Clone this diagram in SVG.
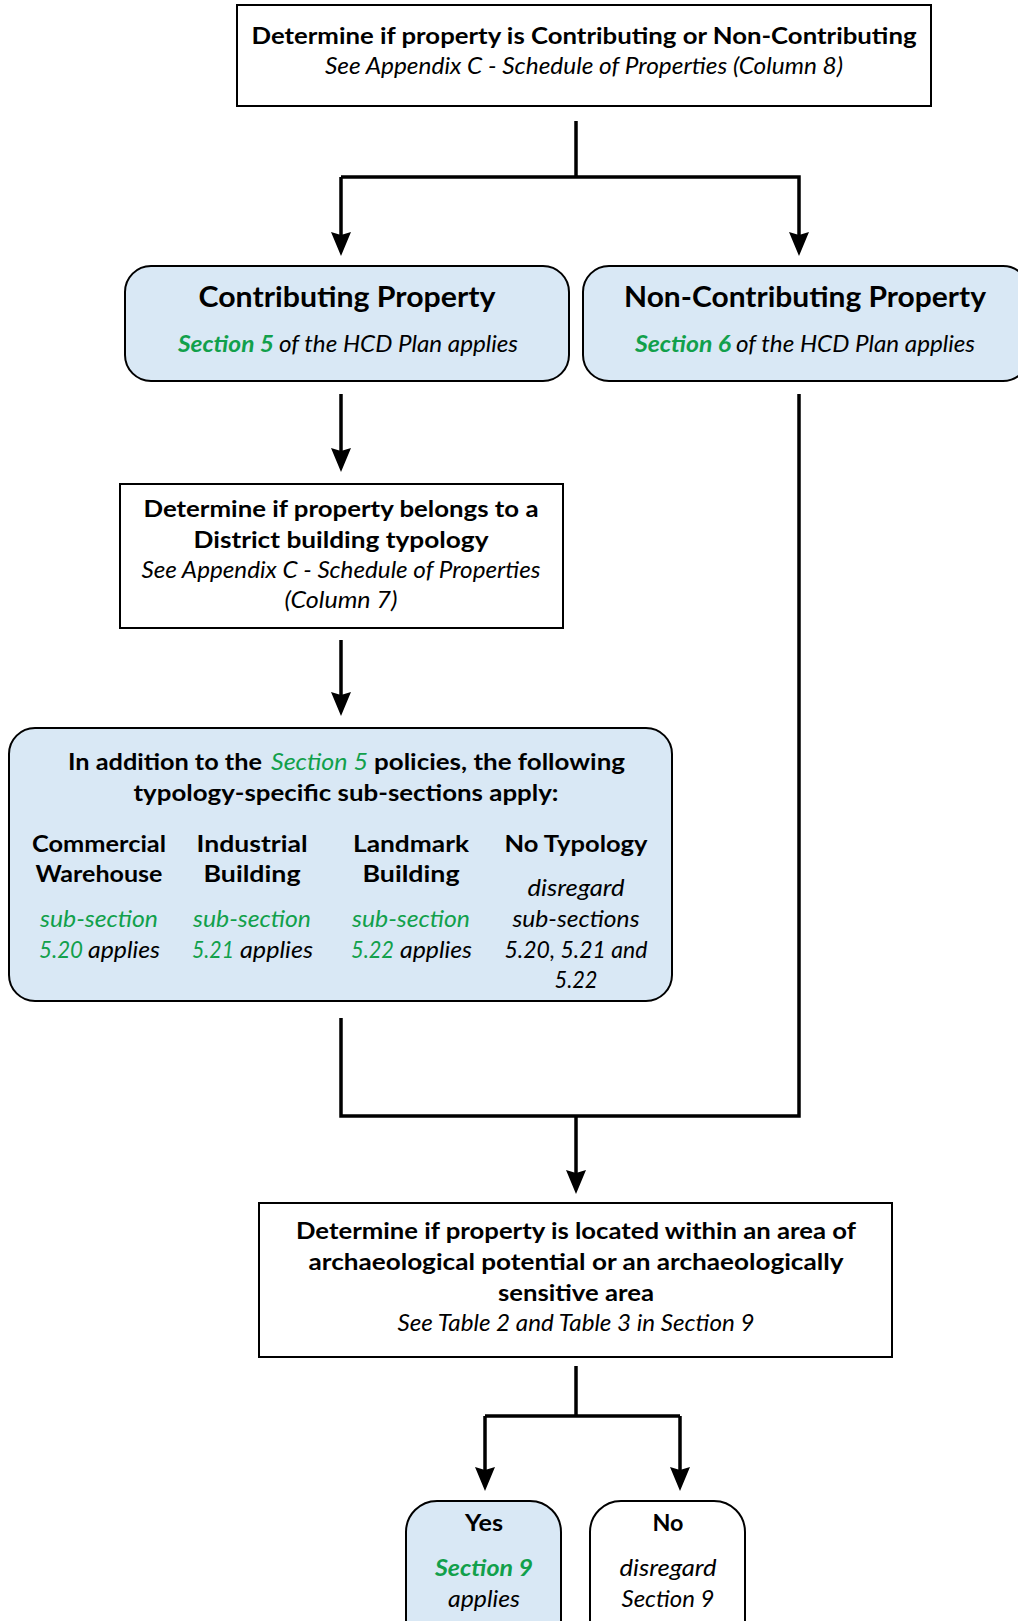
<svg xmlns="http://www.w3.org/2000/svg" width="1018" height="1621" viewBox="0 0 1018 1621">
<style>
text{font-family:Lato,"Open Sans","Liberation Sans",sans-serif;font-size:23px;fill:#000}
.b{font-weight:bold}
.i{font-style:italic}
.g{fill:#11a04b}
.t{font-size:29px;font-weight:bold}
.m{text-anchor:middle}
.box{fill:#fff;stroke:#000;stroke-width:2}
.blue{fill:#d9e8f5;stroke:#000;stroke-width:2}
.wht{fill:#fff;stroke:#000;stroke-width:2}
.ln{fill:none;stroke:#000;stroke-width:3.5}
</style>
<defs>
<marker id="ah" markerUnits="userSpaceOnUse" markerWidth="26" markerHeight="22" viewBox="0 -11 26 22" refX="12" refY="0" orient="auto">
<path d="M0,-10 L24,0 L0,10 L3,0 Z" fill="#000"/>
</marker>
</defs>
<rect width="1018" height="1621" fill="#fff"/>

<g id="connectors">
<polyline class="ln" points="576,121 576,177"/>
<polyline class="ln" points="341,177 799,177 799,244" marker-end="url(#ah)"/>
<path class="ln" d="M341,177 L341,244" marker-end="url(#ah)"/>
<path class="ln" d="M341,394 L341,460" marker-end="url(#ah)"/>
<path class="ln" d="M341,640 L341,704" marker-end="url(#ah)"/>
<polyline class="ln" points="341,1018 341,1116 799,1116 799,394"/>
<path class="ln" d="M576,1116 L576,1182" marker-end="url(#ah)"/>
<polyline class="ln" points="576,1366 576,1416"/>
<path class="ln" d="M485,1416 L680,1416"/>
<path class="ln" d="M485,1416 L485,1479" marker-end="url(#ah)"/>
<path class="ln" d="M680,1416 L680,1479" marker-end="url(#ah)"/>
</g>

<g id="n-determine">
<rect class="box" x="237" y="5" width="694" height="101"/>
<text class="b m" x="584" y="44" textLength="665" lengthAdjust="spacingAndGlyphs">Determine if property is Contributing or Non-Contributing</text>
<text class="i m" x="584" y="74" textLength="518" lengthAdjust="spacingAndGlyphs">See Appendix C - Schedule of Properties (Column 8)</text>
</g>

<g id="n-contributing">
<rect class="blue" x="125" y="266" width="444" height="115" rx="26"/>
<text class="t m" x="347" y="307" textLength="297" lengthAdjust="spacingAndGlyphs">Contributing Property</text>
<text class="b i g" x="178" y="352" textLength="96" lengthAdjust="spacingAndGlyphs">Section 5</text>
<text class="i" x="279" y="352" textLength="239" lengthAdjust="spacingAndGlyphs">of the HCD Plan applies</text>
</g>

<g id="n-noncontributing">
<rect class="blue" x="583" y="266" width="446" height="115" rx="26"/>
<text class="t m" x="805" y="307" textLength="362" lengthAdjust="spacingAndGlyphs">Non-Contributing Property</text>
<text class="b i g" x="635" y="352" textLength="96" lengthAdjust="spacingAndGlyphs">Section 6</text>
<text class="i" x="736" y="352" textLength="239" lengthAdjust="spacingAndGlyphs">of the HCD Plan applies</text>
</g>

<g id="n-typology">
<rect class="box" x="120" y="484" width="443" height="144"/>
<text class="b m" x="341" y="517" textLength="395" lengthAdjust="spacingAndGlyphs">Determine if property belongs to a</text>
<text class="b m" x="341" y="548" textLength="295" lengthAdjust="spacingAndGlyphs">District building typology</text>
<text class="i m" x="341" y="578" textLength="399" lengthAdjust="spacingAndGlyphs">See Appendix C - Schedule of Properties</text>
<text class="i m" x="341" y="608" textLength="113" lengthAdjust="spacingAndGlyphs">(Column 7)</text>
</g>

<g id="n-subsections">
<rect class="blue" x="9" y="728" width="663" height="273" rx="26"/>
<text class="b" x="68" y="770" textLength="194" lengthAdjust="spacingAndGlyphs">In addition to the</text>
<text class="i g" x="271" y="770" textLength="97" lengthAdjust="spacingAndGlyphs">Section 5</text>
<text class="b" x="374" y="770" textLength="251" lengthAdjust="spacingAndGlyphs">policies, the following</text>
<text class="b m" x="346" y="801" textLength="425" lengthAdjust="spacingAndGlyphs">typology-specific sub-sections apply:</text>

<text class="b m" x="99" y="852" textLength="134" lengthAdjust="spacingAndGlyphs">Commercial</text>
<text class="b m" x="99" y="882" textLength="127" lengthAdjust="spacingAndGlyphs">Warehouse</text>
<text class="i g m" x="99" y="927" textLength="118" lengthAdjust="spacingAndGlyphs">sub-section</text>
<text class="i g" x="39" y="958" textLength="44" lengthAdjust="spacingAndGlyphs">5.20</text>
<text class="i" x="88" y="958" textLength="72" lengthAdjust="spacingAndGlyphs">applies</text>

<text class="b m" x="252" y="852" textLength="111" lengthAdjust="spacingAndGlyphs">Industrial</text>
<text class="b m" x="252" y="882" textLength="97" lengthAdjust="spacingAndGlyphs">Building</text>
<text class="i g m" x="252" y="927" textLength="118" lengthAdjust="spacingAndGlyphs">sub-section</text>
<text class="i g" x="192" y="958" textLength="42" lengthAdjust="spacingAndGlyphs">5.21</text>
<text class="i" x="240" y="958" textLength="73" lengthAdjust="spacingAndGlyphs">applies</text>

<text class="b m" x="411" y="852" textLength="116" lengthAdjust="spacingAndGlyphs">Landmark</text>
<text class="b m" x="411" y="882" textLength="97" lengthAdjust="spacingAndGlyphs">Building</text>
<text class="i g m" x="411" y="927" textLength="118" lengthAdjust="spacingAndGlyphs">sub-section</text>
<text class="i g" x="351" y="958" textLength="43" lengthAdjust="spacingAndGlyphs">5.22</text>
<text class="i" x="400" y="958" textLength="72" lengthAdjust="spacingAndGlyphs">applies</text>

<text class="b m" x="576" y="852" textLength="143" lengthAdjust="spacingAndGlyphs">No Typology</text>
<text class="i m" x="576" y="896" textLength="97" lengthAdjust="spacingAndGlyphs">disregard</text>
<text class="i m" x="576" y="927" textLength="127" lengthAdjust="spacingAndGlyphs">sub-sections</text>
<text class="i m" x="576" y="958" textLength="143" lengthAdjust="spacingAndGlyphs">5.20, 5.21 and</text>
<text class="i m" x="576" y="988" textLength="43" lengthAdjust="spacingAndGlyphs">5.22</text>
</g>

<g id="n-archaeology">
<rect class="box" x="259" y="1203" width="633" height="154"/>
<text class="b m" x="576" y="1239" textLength="560" lengthAdjust="spacingAndGlyphs">Determine if property is located within an area of</text>
<text class="b m" x="576" y="1270" textLength="535" lengthAdjust="spacingAndGlyphs">archaeological potential or an archaeologically</text>
<text class="b m" x="576" y="1301" textLength="156" lengthAdjust="spacingAndGlyphs">sensitive area</text>
<text class="i m" x="576" y="1331" textLength="357" lengthAdjust="spacingAndGlyphs">See Table 2 and Table 3 in Section 9</text>
</g>

<g id="n-yes">
<rect class="blue" x="406" y="1501" width="155" height="160" rx="31"/>
<text class="b m" x="484" y="1531" textLength="38" lengthAdjust="spacingAndGlyphs">Yes</text>
<text class="b i g m" x="484" y="1576" textLength="98" lengthAdjust="spacingAndGlyphs">Section 9</text>
<text class="i m" x="484" y="1607" textLength="72" lengthAdjust="spacingAndGlyphs">applies</text>
</g>

<g id="n-no">
<rect class="wht" x="590" y="1501" width="155" height="160" rx="31"/>
<text class="b m" x="668" y="1531" textLength="31" lengthAdjust="spacingAndGlyphs">No</text>
<text class="i m" x="668" y="1576" textLength="97" lengthAdjust="spacingAndGlyphs">disregard</text>
<text class="i m" x="668" y="1607" textLength="93" lengthAdjust="spacingAndGlyphs">Section 9</text>
</g>
</svg>
